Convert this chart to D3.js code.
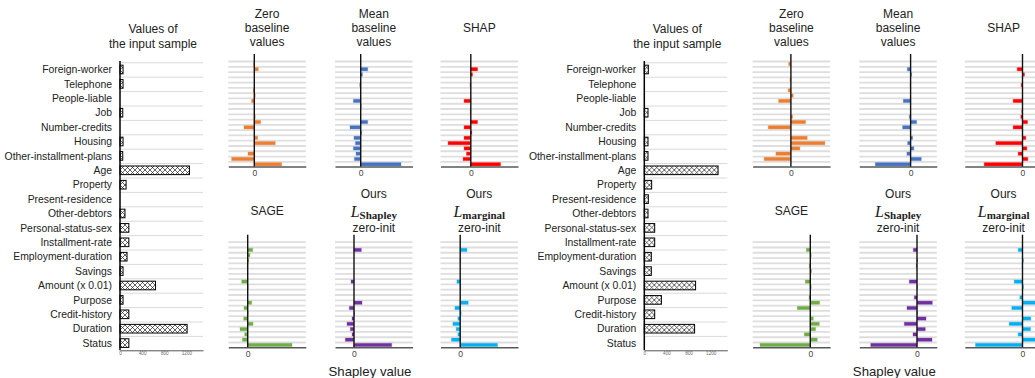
<!DOCTYPE html>
<html>
<head>
<meta charset="utf-8">
<script src="https://cdn.jsdelivr.net/npm/d3@7"></script>
<style>
  html, body { margin: 0; padding: 0; background: #fff; }
  svg { display: block; font-family: "Liberation Sans", Arial, sans-serif; }
</style>
</head>
<body>
<div id="chart"></div>
<script>
// features, top to bottom
const features = ['Foreign-worker', 'Telephone', 'People-liable', 'Job', 'Number-credits',
  'Housing', 'Other-installment-plans', 'Age', 'Property', 'Present-residence',
  'Other-debtors', 'Personal-status-sex', 'Installment-rate', 'Employment-duration',
  'Savings', 'Amount (x 0.01)', 'Purpose', 'Credit-history', 'Duration', 'Status'];

const inputTicks = [0, 400, 800, 1200];

// values of the input sample
const inputA = [55, 55, 0, 50, 0, 55, 50, 1255, 110, 0, 90, 160, 160, 127, 55, 642, 55, 160, 1213, 160];
const inputB = [73, 0, 0, 67, 0, 67, 67, 1333, 133, 73, 67, 188, 188, 127, 127, 927, 309, 188, 909, 0];

// attributions, sample A
const zeroA  = [-0.007, 0.04, 0, 0, 0, -0.01, 0.01, -0.027, 0, 0, 0.01, 0.063, -0.103, 0, 0.033, 0.21, 0, -0.063, -0.227, 0.273];
const meanA  = [0, 0.07, 0.017, 0, -0.01, 0, 0, -0.073, 0.005, 0, 0, 0.07, -0.107, 0.01, -0.067, -0.053, -0.073, -0.047, -0.063, 0.403];
const shapA  = [0, 0.067, 0.017, 0, -0.007, 0, 0, -0.067, 0, -0.005, 0, 0.067, -0.067, 0.01, -0.067, -0.227, -0.067, -0.043, -0.077, 0.297];
const sageA  = [0, 0.05, 0.023, 0.01, -0.005, 0, 0, -0.06, 0.005, 0, 0, 0.04, -0.037, 0.005, -0.04, 0.053, -0.077, -0.03, -0.053, 0.443];
const lshapA = [0, 0.073, 0, 0, 0, 0, 0, -0.03, 0, 0, 0, 0.08, -0.047, 0.005, -0.02, -0.07, -0.037, -0.02, -0.087, 0.377];
const lmargA = [0, 0.067, 0, 0.005, 0, 0, 0, -0.033, 0.005, 0, 0, 0.08, -0.053, 0.01, -0.023, -0.073, -0.04, -0.023, -0.087, 0.373];

// attributions, sample B
const zeroB  = [-0.023, 0, 0, -0.01, 0, -0.027, 0.023, -0.123, 0, 0, 0.017, 0.147, -0.227, 0, 0.163, 0.34, 0.09, -0.15, -0.267, 0];
const meanB  = [0, -0.033, 0.01, 0, -0.005, 0, 0, -0.073, 0, 0, -0.013, 0.06, -0.08, 0, 0.02, -0.03, 0.033, -0.037, 0.107, -0.353];
const shapB  = [0, -0.053, 0.02, 0, -0.013, 0, 0, -0.093, 0, -0.007, -0.017, 0.05, -0.093, 0, 0.033, -0.267, 0.043, -0.043, 0.053, -0.383];
const sageB  = [0, -0.04, 0.01, 0, -0.01, 0.013, 0, -0.05, 0.01, 0, -0.013, 0.093, -0.13, 0, 0.03, 0.09, 0.053, -0.06, 0.07, -0.503];
const lshapB = [0, -0.037, 0, 0.005, -0.007, 0, 0, -0.077, 0.005, 0, -0.027, 0.153, -0.1, 0.005, 0.09, -0.127, 0.083, -0.04, 0.15, -0.463];
const lmargB = [0, -0.043, 0, 0.01, -0.005, 0, 0, -0.083, 0.01, 0, -0.027, 0.14, -0.107, 0, 0.083, -0.133, 0.08, -0.043, 0.14, -0.47];

// x domains of each small panel
const domainsA = [[-0.26, 0.515], [-0.257, 0.518], [-0.303, 0.472], [-0.194, 0.581], [-0.19, 0.585], [-0.197, 0.578]];
const domainsB = [[-0.383, 0.392], [-0.513, 0.262], [-0.577, 0.198], [-0.577, 0.198], [-0.577, 0.198], [-0.577, 0.198]];

const colors = ['#ED7D31', '#4472C4', '#FF0000', '#70AD47', '#7030A0', '#00B0F0'];

const width = 1035, height = 378;
const svg = d3.select('#chart').append('svg').attr('width', width).attr('height', height);
svg.append('rect').attr('width', width).attr('height', height).attr('fill', '#fff');

// crosshatch fill
const pat = svg.append('defs').append('pattern')
  .attr('id', 'hatch').attr('patternUnits', 'userSpaceOnUse')
  .attr('width', 5).attr('height', 5);
pat.append('rect').attr('width', 5).attr('height', 5).attr('fill', '#fff');
pat.append('path').attr('d', 'M0,0L5,5M5,0L0,5M-1,4L1,6M4,-1L6,1')
  .attr('stroke', '#222').attr('stroke-width', 0.7);

function inputPanel(g, values) {
  const x = d3.scaleLinear().domain([0, 1500]).range([120, 203]);
  const y = d3.scaleBand().domain(features).range([62.3, 350.3]);
  const bh = y.step() * 0.6;

  g.selectAll('.grid').data(features).enter().append('line')
    .attr('x1', 120).attr('x2', 203)
    .attr('y1', d => y(d) + 0.5).attr('y2', d => y(d) + 0.5)
    .attr('stroke', '#d9d9d9').attr('stroke-width', 1);

  g.selectAll('.bar').data(values).enter().append('rect')
    .attr('x', x(0))
    .attr('y', (d, i) => y(features[i]) + (y.step() - bh) / 2)
    .attr('width', d => x(d) - x(0))
    .attr('height', bh)
    .attr('fill', 'url(#hatch)')
    .attr('stroke', d => d > 0 ? '#000' : 'none')
    .attr('stroke-width', 1);

  g.selectAll('.lab').data(features).enter().append('text')
    .attr('x', 112).attr('y', d => y(d) + y.step() / 2)
    .attr('dy', '0.35em').attr('text-anchor', 'end')
    .attr('font-size', 10.4).attr('fill', '#222')
    .text(d => d);

  const ax = g.append('g').attr('transform', 'translate(0,350.3)')
    .call(d3.axisBottom(x).tickValues(inputTicks).tickSize(0).tickPadding(1.8).tickFormat(d3.format('d')));
  ax.select('.domain').attr('stroke', '#555').attr('stroke-width', 1);
  ax.selectAll('text').attr('font-size', 4.6).attr('fill', '#666')
    .attr('font-family', '"Liberation Sans", Arial, sans-serif');

  g.append('line').attr('x1', 120).attr('x2', 120).attr('y1', 61).attr('y2', 350.3)
    .attr('stroke', '#000').attr('stroke-width', 1.5);

  const t = g.append('text').attr('text-anchor', 'middle').attr('font-size', 12).attr('fill', '#222');
  t.append('tspan').attr('x', 153).attr('y', 33).text('Values of');
  t.append('tspan').attr('x', 153).attr('y', 48).text('the input sample');
}

function smallPanel(g, values, dom, color, x0, top) {
  const x = d3.scaleLinear().domain(dom).range([x0, x0 + 77.5]);
  const y = d3.scaleBand().domain(features).range([top, top + 105.6]);
  const bottom = top + 105.6;
  const bh = 3.3;

  g.selectAll('.grid').data(features).enter().append('line')
    .attr('x1', x0).attr('x2', x0 + 77.5)
    .attr('y1', d => y(d) + 0.5).attr('y2', d => y(d) + 0.5)
    .attr('stroke', '#dedede').attr('stroke-width', 1.8);

  g.selectAll('.bar').data(values).enter().append('rect')
    .attr('x', d => x(Math.min(0, d)))
    .attr('y', (d, i) => y(features[i]) + (y.step() - bh) / 2 + 0.3)
    .attr('width', d => Math.abs(x(d) - x(0)))
    .attr('height', bh)
    .attr('fill', color)
    .attr('stroke', color).attr('stroke-opacity', 0.3).attr('stroke-width', 1);

  const ax = g.append('g').attr('transform', `translate(0,${bottom})`)
    .call(d3.axisBottom(x).tickValues([0]).tickSize(0).tickPadding(3.2).tickFormat(d3.format('d')));
  ax.select('.domain').attr('stroke', '#595959').attr('stroke-width', 1.5);
  ax.selectAll('text').attr('font-size', 8.6).attr('fill', '#444')
    .attr('font-family', '"Liberation Sans", Arial, sans-serif');

  g.append('line').attr('x1', x(0)).attr('x2', x(0)).attr('y1', top - 7).attr('y2', bottom)
    .attr('stroke', '#111').attr('stroke-width', 1.4);
}

function titles(g) {
  const cx = [267.1, 373.8, 479.3];
  const T = (x, y, s) => g.append('text').attr('x', x).attr('y', y)
    .attr('text-anchor', 'middle').attr('font-size', 12).attr('fill', '#222').text(s);
  T(cx[0], 18.3, 'Zero'); T(cx[0], 32, 'baseline'); T(cx[0], 45.7, 'values');
  T(cx[1], 18.3, 'Mean'); T(cx[1], 32, 'baseline'); T(cx[1], 45.7, 'values');
  T(cx[2], 32, 'SHAP');
  T(cx[0], 215, 'SAGE');
  [['Shapley', cx[1]], ['marginal', cx[2]]].forEach(([sub, x]) => {
    T(x, 198.3, 'Ours');
    const m = g.append('text').attr('x', x).attr('y', 216.5).attr('text-anchor', 'middle').attr('fill', '#222');
    m.append('tspan').attr('font-family', '"Liberation Serif", "DejaVu Serif", serif')
      .attr('font-style', 'italic').attr('font-size', 16).text('L');
    m.append('tspan').attr('font-family', '"Liberation Serif", "DejaVu Serif", serif')
      .attr('font-weight', 'bold').attr('font-size', 11).attr('dy', 2).text(sub);
    T(x, 231.7, 'zero-init');
  });
}

function half(dx, input, series, domains) {
  const g = svg.append('g').attr('transform', `translate(${dx},0)`);
  inputPanel(g.append('g'), input);
  const cols = [228.3, 335, 440.5];
  series.forEach((vals, k) => {
    const top = k < 3 ? 61 : 241.7;
    smallPanel(g.append('g'), vals, domains[k], colors[k], cols[k % 3], top);
  });
  titles(g);
  g.append('text').attr('x', 370).attr('y', 376).attr('text-anchor', 'middle')
    .attr('font-size', 13.2).attr('fill', '#222').text('Shapley value');
}

half(0, inputA, [zeroA, meanA, shapA, sageA, lshapA, lmargA], domainsA);
half(524.3, inputB, [zeroB, meanB, shapB, sageB, lshapB, lmargB], domainsB);
</script>
</body>
</html>
